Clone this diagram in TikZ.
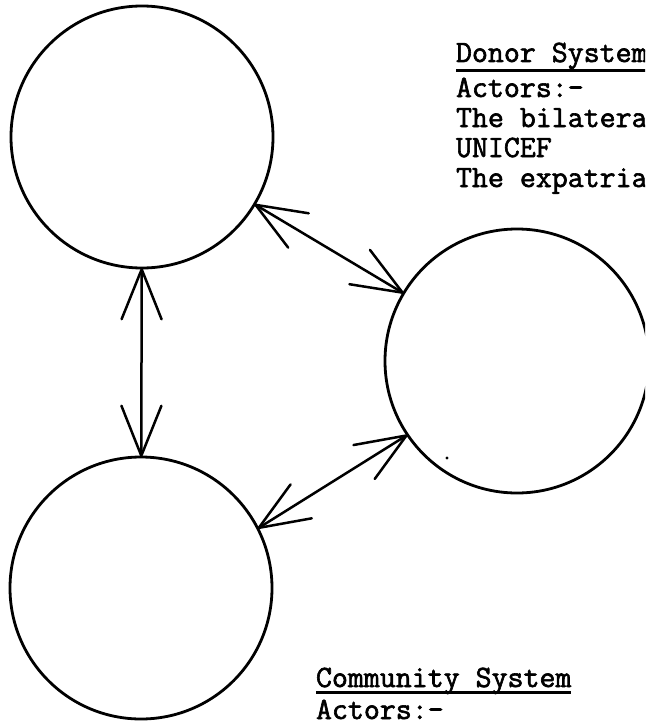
\documentclass[tikz,border=0pt]{standalone}
\usepackage{fontspec}
\newfontfamily\typew[FakeBold=2]{Latin Modern Mono}
\usetikzlibrary{arrows.meta}
\begin{document}
\begin{tikzpicture}[x=1pt,y=-1pt,
  sysnode/.style={circle,draw,line width=2.8pt,inner sep=0pt,outer sep=0pt},
  link/.style={line width=2.5pt,
    {Straight Barb[length=50pt,width=40pt,round]}-{Straight Barb[length=50pt,width=40pt,round]}},
  txt/.style={anchor=base west,inner sep=0pt,outer sep=0pt,
    font=\fontsize{31}{35}\selectfont\typew},
  uline/.style={line width=3pt}
]
\useasboundingbox (0,0) rectangle (645,725);
\clip (0,0) rectangle (645,725);
\node[sysnode,minimum size=262pt] (ca) at (142,137) {};
\node[sysnode,minimum size=264pt] (cb) at (517,361) {};
\node[sysnode,minimum size=262pt] (cc) at (141,588) {};
\fill (447,458) circle (1.6pt);

\draw[link] (ca) -- (cb);
\draw[link] (ca) -- (cc);
\draw[link] (cb.214) -- (cc.27);

\node[txt] (dh) at (456,62) {Donor System};
\draw[uline] ([yshift=-8pt]dh.base west) -- ([yshift=-8pt]dh.base east);
\node[txt] (d1) at (456,97) {Actors:-};
\node[txt] (d2) at (456,127) {The bilatera};
\node[txt] (d3) at (456,157) {UNICEF};
\node[txt] (d4) at (456,187) {The expatria};

\node[txt] (ch) at (316,687) {Community System};
\draw[uline] ([yshift=-5pt]ch.base west) -- ([yshift=-5pt]ch.base east);
\node[txt] (c1) at (316,719) {Actors:-};
\end{tikzpicture}
\end{document}
